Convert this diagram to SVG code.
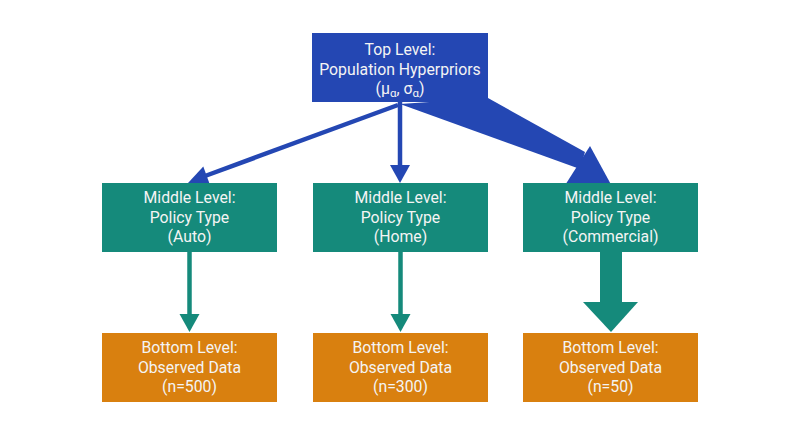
<svg xmlns="http://www.w3.org/2000/svg" width="800" height="446" viewBox="0 0 800 446">
<style>
.t{font-family:Roboto,"Liberation Sans",sans-serif;font-size:15.8px;fill:#f4f4f4;text-anchor:middle}
.top{fill:#2447b3}
.mid{fill:#158a7b}
.bot{fill:#d9800f}
.blue{fill:#2447b3}
.teal{fill:#158a7b}
</style>
<rect width="800" height="446" fill="#ffffff"/>
<g id="connectors">
  <line x1="398" y1="105" x2="205" y2="176" stroke="#2447b3" stroke-width="4.5"/>
  <polygon class="blue" points="188,183 203.3,166.6 210.2,185.4"/>
  <line x1="400" y1="102" x2="400" y2="167" stroke="#2447b3" stroke-width="4.5"/>
  <polygon class="blue" points="390,165 410,165 400,183"/>
  <polygon class="blue" points="400,104 488,98 585,152 580,169"/>
  <polygon class="blue" points="590,146 614,190 562,190"/>
  <line x1="189.5" y1="252" x2="189.5" y2="316" stroke="#158a7b" stroke-width="4.5"/>
  <polygon class="teal" points="179.5,314 199.5,314 189.5,332"/>
  <line x1="400.5" y1="252" x2="400.5" y2="316" stroke="#158a7b" stroke-width="4.5"/>
  <polygon class="teal" points="390.5,314 410.5,314 400.5,332"/>
  <rect class="teal" x="600" y="252" width="22" height="52"/>
  <polygon class="teal" points="583,302 638,302 611,332"/>
</g>
<g id="top">
  <rect class="top" x="312" y="33" width="176" height="69"/>
  <text class="t" x="400" y="55">Top Level:</text>
  <text class="t" x="400" y="75">Population Hyperpriors</text>
  <text class="t" x="400" y="94">(μ<tspan font-size="11.5" dy="3">α</tspan><tspan dy="-3">, σ</tspan><tspan font-size="11.5" dy="3">α</tspan><tspan dy="-3">)</tspan></text>
</g>
<g id="mid-auto">
  <rect class="mid" x="102" y="183" width="175" height="69"/>
  <text class="t" x="189.5" y="203">Middle Level:</text>
  <text class="t" x="189.5" y="222.5">Policy Type</text>
  <text class="t" x="189.5" y="242">(Auto)</text>
</g>
<g id="mid-home">
  <rect class="mid" x="313" y="183" width="175" height="69"/>
  <text class="t" x="400.5" y="203">Middle Level:</text>
  <text class="t" x="400.5" y="222.5">Policy Type</text>
  <text class="t" x="400.5" y="242">(Home)</text>
</g>
<g id="mid-commercial">
  <rect class="mid" x="523" y="183" width="175" height="69"/>
  <text class="t" x="610.5" y="203">Middle Level:</text>
  <text class="t" x="610.5" y="222.5">Policy Type</text>
  <text class="t" x="610.5" y="242">(Commercial)</text>
</g>
<g id="bot-auto">
  <rect class="bot" x="102" y="333" width="175" height="69"/>
  <text class="t" x="189.5" y="353">Bottom Level:</text>
  <text class="t" x="189.5" y="372.5">Observed Data</text>
  <text class="t" x="189.5" y="392">(n=500)</text>
</g>
<g id="bot-home">
  <rect class="bot" x="313" y="333" width="175" height="69"/>
  <text class="t" x="400.5" y="353">Bottom Level:</text>
  <text class="t" x="400.5" y="372.5">Observed Data</text>
  <text class="t" x="400.5" y="392">(n=300)</text>
</g>
<g id="bot-commercial">
  <rect class="bot" x="523" y="333" width="175" height="69"/>
  <text class="t" x="610.5" y="353">Bottom Level:</text>
  <text class="t" x="610.5" y="372.5">Observed Data</text>
  <text class="t" x="610.5" y="392">(n=50)</text>
</g>
</svg>
